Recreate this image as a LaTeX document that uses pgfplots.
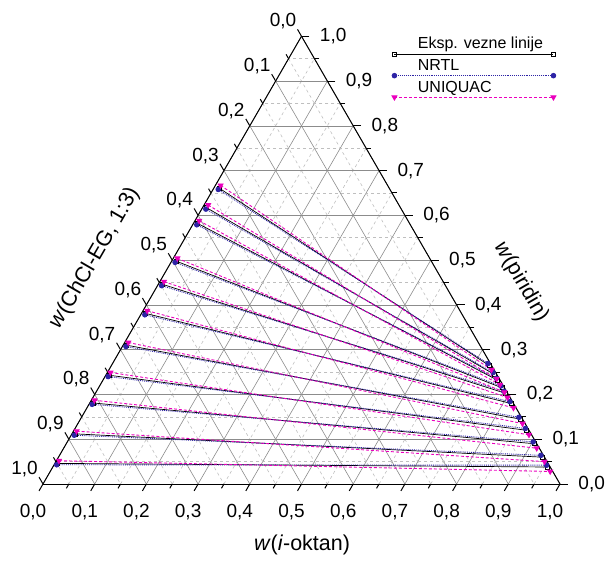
\documentclass[border=0pt]{standalone}
\usepackage{pgfplots}
\pgfplotsset{compat=1.18}
\usepgfplotslibrary{ternary}
\usepackage{fontspec}
\setmainfont{Liberation Sans}
\definecolor{nrtl}{RGB}{45,35,165}
\definecolor{uniq}{RGB}{235,0,190}
\begin{document}
\begin{tikzpicture}
\path[use as bounding box] (-43pt,-84pt) rectangle (563pt,484pt);
\begin{ternaryaxis}[
  scale only axis,
  width=517pt, height=448pt,
  xmin=0, xmax=1, ymin=0, ymax=1, zmin=0, zmax=1,
  xtick={0,0.1,0.2,0.3,0.4,0.5,0.6,0.7,0.8,0.9,1},
  ytick={0,0.1,0.2,0.3,0.4,0.5,0.6,0.7,0.8,0.9,1},
  ztick={0,0.1,0.2,0.3,0.4,0.5,0.6,0.7,0.8,0.9,1},
  minor tick num=1,
  grid=both,
  major grid style={draw=gray!90, line width=0.6pt},
  minor grid style={draw=gray!50, dashed, line width=0.6pt},
  axis line style={line width=1pt},
  tick style={black, line width=1pt},
  major tick length=8pt, minor tick length=5pt,
  xticklabel={\pgfmathparse{\ticknum/10}\pgfmathprintnumber[use comma,fixed,fixed zerofill,precision=1,assume math mode=true]{\pgfmathresult}},
  yticklabel={\pgfmathparse{\ticknum/10}\pgfmathprintnumber[use comma,fixed,fixed zerofill,precision=1,assume math mode=true]{\pgfmathresult}},
  zticklabel={\pgfmathparse{\ticknum/10}\pgfmathprintnumber[use comma,fixed,fixed zerofill,precision=1,assume math mode=true]{\pgfmathresult}},
  tick label style={font=\fontsize{19}{20}\selectfont},
  zticklabel style={xshift=-6pt, yshift=-10pt},
  xticklabel style={xshift=7pt},
  yticklabel style={xshift=3pt, yshift=-2pt},
  label style={font=\fontsize{21.5}{23}\selectfont},
  zlabel={\textit{w}(\textit{i}-oktan)},
  xlabel={\textit{w}(piridin)},
  ylabel={\textit{w}(ChCl-EG, 1:3)},
  zlabel style={at={(axis description cs:0.501,-0.136)}, anchor=center, rotate=0},
  xlabel style={at={(axis description cs:0.925,0.452)}, anchor=center, rotate=-60},
  ylabel style={at={(axis description cs:0.10,0.504)}, anchor=center, rotate=60},
  legend style={at={(axis description cs:0.694,1.007)}, anchor=north west, draw=none, fill=none,
    font=\fontsize{16}{18}\selectfont, row sep=5pt, cells={anchor=west}},
  legend image code/.code={\path (0pt,0pt); \draw[overlay,#1] plot coordinates {(-11pt,-10pt) (148pt,-10pt)};},
]
\addplot3[black, line width=0.7pt, mark=square, mark size=2pt, mark options={solid, fill=white, line width=0.6pt}, empty line=jump]
table[x=pyr, y=chcl, z=oct] {
oct pyr chcl
0.010 0.661 0.329
0.730 0.265 0.005

0.008 0.617 0.375
0.750 0.245 0.005

0.008 0.582 0.410
0.763 0.232 0.005

0.008 0.498 0.494
0.780 0.215 0.005

0.008 0.446 0.546
0.792 0.203 0.005

0.008 0.381 0.611
0.815 0.180 0.005

0.007 0.310 0.683
0.850 0.145 0.005

0.006 0.243 0.751
0.875 0.120 0.005

0.006 0.181 0.813
0.905 0.090 0.005

0.006 0.112 0.882
0.935 0.060 0.005

0.005 0.046 0.949
0.957 0.038 0.005
};
\addlegendentry{\hspace{10pt}Eksp. vezne linije}
\addplot3[nrtl, densely dotted, line width=0.9pt, mark=*, mark size=2.3pt, mark options={solid, fill=nrtl}, empty line=jump]
table[x=pyr, y=chcl, z=oct] {
oct pyr chcl
0.010 0.658 0.332
0.726 0.269 0.005

0.008 0.614 0.378
0.746 0.249 0.005

0.008 0.579 0.413
0.759 0.236 0.005

0.008 0.495 0.497
0.776 0.219 0.005

0.008 0.443 0.549
0.788 0.207 0.005

0.008 0.378 0.614
0.811 0.184 0.005

0.007 0.307 0.686
0.846 0.149 0.005

0.006 0.240 0.754
0.871 0.124 0.005

0.006 0.178 0.816
0.901 0.094 0.005

0.006 0.109 0.885
0.931 0.064 0.005

0.005 0.043 0.952
0.953 0.042 0.005
};
\addlegendentry{\hspace{10pt}NRTL}
\addplot3[uniq, densely dashed, line width=0.9pt, mark=triangle*, mark size=2.8pt, mark options={solid, rotate=180, fill=uniq}, empty line=jump]
table[x=pyr, y=chcl, z=oct] {
oct pyr chcl
0.010 0.667 0.323
0.740 0.255 0.005

0.008 0.623 0.369
0.760 0.235 0.005

0.008 0.588 0.404
0.773 0.222 0.005

0.008 0.504 0.488
0.790 0.205 0.005

0.008 0.452 0.540
0.802 0.193 0.005

0.008 0.387 0.605
0.825 0.170 0.005

0.007 0.316 0.677
0.860 0.135 0.005

0.006 0.249 0.745
0.885 0.110 0.005

0.006 0.187 0.807
0.915 0.080 0.005

0.006 0.118 0.876
0.945 0.050 0.005

0.005 0.052 0.943
0.967 0.028 0.005
};
\addlegendentry{\hspace{10pt}UNIQUAC}
\end{ternaryaxis}
\end{tikzpicture}
\end{document}
